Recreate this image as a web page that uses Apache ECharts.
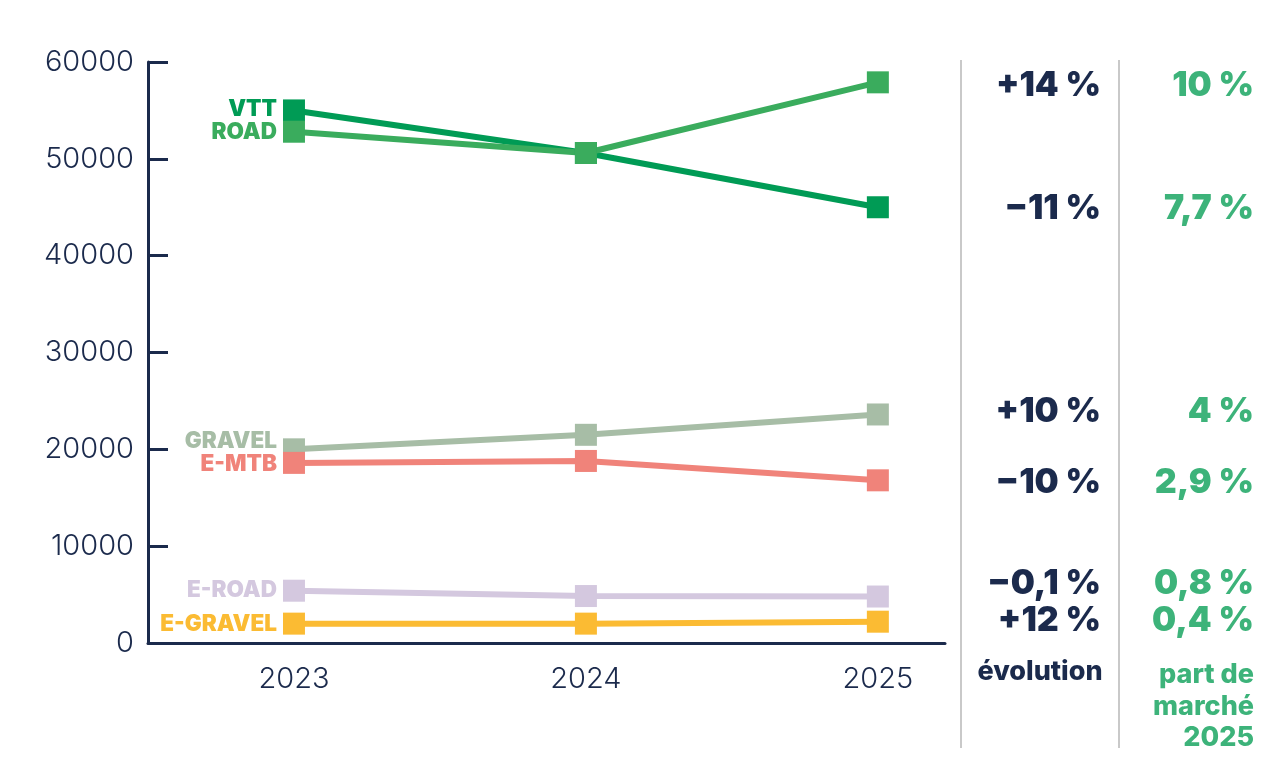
<!DOCTYPE html>
<html>
<head>
<meta charset="utf-8">
<script src="https://cdn.jsdelivr.net/npm/echarts@6/dist/echarts.min.js"></script>
<style>html,body{margin:0;padding:0;background:#fff}#c{width:1275px;height:773px}</style>
</head>
<body>
<div id="c"></div>
<script>
const years = [2023, 2024, 2025];
const seriesNames = ['GRAVEL', 'E-MTB', 'E-ROAD', 'E-GRAVEL', 'VTT', 'ROAD'];
const gravel = [20000, 21500, 23600];
const emtb = [18600, 18800, 16800];
const eroad = [5400, 4850, 4800];
const egravel = [2000, 2000, 2200];
const vtt = [55000, 50600, 45000];
const road = [52800, 50600, 57900];
const yTicks = [0, 10000, 20000, 30000, 40000, 50000, 60000];
const evolution = ['+14 %', '\u221211 %', '+10 %', '\u221210 %', '\u22120,1 %', '+12 %'];
const share = ['10 %', '7,7 %', '4 %', '2,9 %', '0,8 %', '0,4 %'];

const NAVY = '#1b2a4c';
const GREEN_TXT = '#3db37a';
const colors = {
  'GRAVEL': '#a7bda6', 'E-MTB': '#f0837a', 'E-ROAD': '#d4c8df',
  'E-GRAVEL': '#fbbb33', 'VTT': '#009b55', 'ROAD': '#3aac5d'
};
const values = {
  'GRAVEL': gravel, 'E-MTB': emtb, 'E-ROAD': eroad,
  'E-GRAVEL': egravel, 'VTT': vtt, 'ROAD': road
};
const labelOffsets = { 'GRAVEL': [0, -8], 'E-MTB': [0, 1], 'E-ROAD': [0, 0], 'E-GRAVEL': [0, 1], 'VTT': [0, -1], 'ROAD': [0, 1] };
const boldFont = 'Inter, "Noto Sans", sans-serif';

const chart = echarts.init(document.getElementById('c'), null, { renderer: 'canvas' });

const series = seriesNames.map(name => ({
  name,
  type: 'line',
  symbol: 'rect',
  symbolSize: 22,
  lineStyle: { width: 6, color: colors[name] },
  itemStyle: { color: colors[name] },
  emphasis: { disabled: true },
  data: years.map((y, i) => {
    const d = { value: [y, values[name][i]] };
    if (i === 0) {
      d.label = {
        show: true, position: 'left', distance: 6,
        offset: labelOffsets[name],
        formatter: name,
        color: colors[name], fontFamily: boldFont, fontWeight: 900, fontSize: 22.5
      };
    }
    return d;
  })
}));

const rowOrder = ['ROAD', 'VTT', 'GRAVEL', 'E-MTB', 'E-ROAD', 'E-GRAVEL'];
const rowY = [86, 209, 412, 483, 584, 621];
const graphics = [];
rowOrder.forEach((n, i) => {
  graphics.push({ type: 'text', x: 1101, y: rowY[i], style: { text: evolution[i], textAlign: 'right', textVerticalAlign: 'middle', fill: NAVY, font: '900 34px ' + boldFont } });
  graphics.push({ type: 'text', x: 1254, y: rowY[i], style: { text: share[i], textAlign: 'right', textVerticalAlign: 'middle', fill: GREEN_TXT, font: '900 34px ' + boldFont } });
});
graphics.push({ type: 'line', shape: { x1: 961, y1: 60, x2: 961, y2: 748 }, style: { stroke: '#c9c9c9', lineWidth: 2 } });
graphics.push({ type: 'line', shape: { x1: 1119, y1: 60, x2: 1119, y2: 748 }, style: { stroke: '#c9c9c9', lineWidth: 2 } });
graphics.push({ type: 'text', x: 1040, y: 672, style: { text: 'évolution', textAlign: 'center', textVerticalAlign: 'middle', fill: NAVY, font: '800 27px ' + boldFont } });
['part de', 'marché', '2025'].forEach((t, i) => {
  graphics.push({ type: 'text', x: 1254, y: 675 + i * 31.5, style: { text: t, textAlign: 'right', textVerticalAlign: 'middle', fill: GREEN_TXT, font: '800 27px ' + boldFont } });
});

chart.setOption({
  animation: false,
  backgroundColor: '#ffffff',
  grid: { left: 148, right: 330, top: 62, bottom: 130, containLabel: false },
  xAxis: {
    type: 'value', min: 2022.5, max: 2025.23,
    axisLine: { show: true, lineStyle: { color: NAVY, width: 3 } },
    axisTick: { show: false },
    splitLine: { show: false },
    axisLabel: {
      customValues: years, formatter: v => String(v),
      color: NAVY, fontFamily: 'Inter, sans-serif', fontWeight: 300, fontSize: 29, margin: 22
    }
  },
  yAxis: {
    type: 'value', min: yTicks[0], max: yTicks[yTicks.length - 1], interval: 10000,
    axisLine: { show: true, lineStyle: { color: NAVY, width: 3 } },
    axisTick: { show: true, inside: true, length: 20, lineStyle: { color: NAVY, width: 3 } },
    splitLine: { show: false },
    axisLabel: { formatter: v => String(v), color: NAVY, fontFamily: 'Inter, sans-serif', fontWeight: 300, fontSize: 29, margin: 14, padding: [8, 0, 0, 0] }
  },
  series,
  graphic: graphics
});
</script>
</body>
</html>
